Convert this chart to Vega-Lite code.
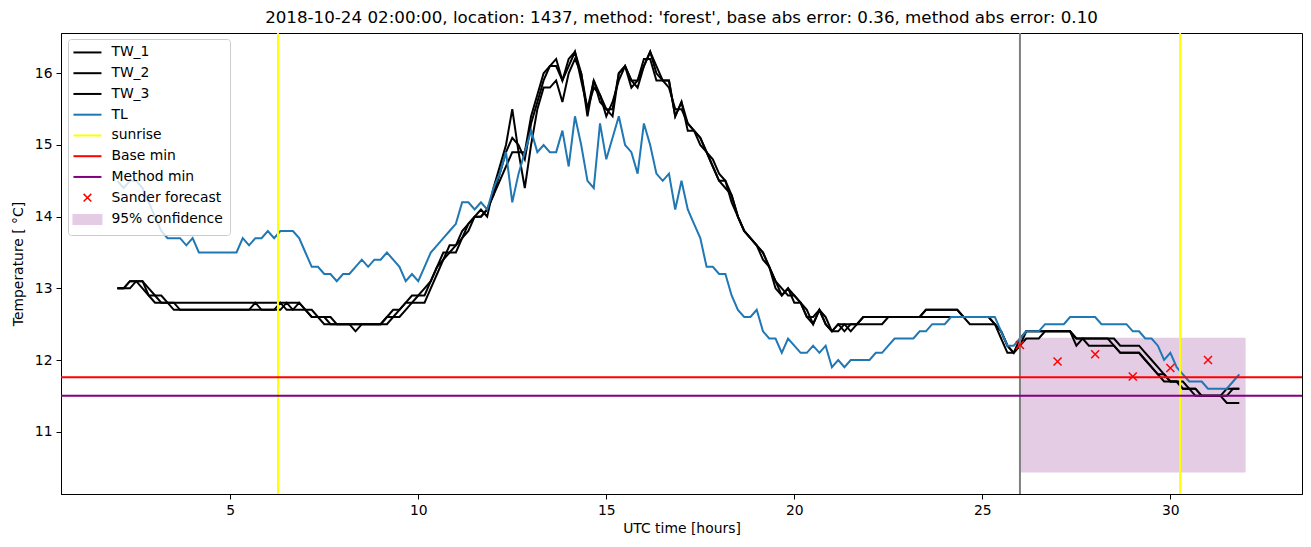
{
  "$schema": "https://vega.github.io/schema/vega-lite/v6.json",
  "width": 1241,
  "height": 461,
  "autosize": {"type": "none"},
  "padding": {"left": 61, "top": 33, "right": 9, "bottom": 53},
  "background": "white",
  "config": {
    "font": "DejaVu Sans",
    "view": {"stroke": "#000000", "strokeWidth": 1},
    "axis": {
      "grid": false, "tickSize": 5, "tickWidth": 1, "tickColor": "#000000",
      "domainColor": "#000000", "domainWidth": 1,
      "labelFont": "DejaVu Sans", "labelFontSize": 13.9, "labelColor": "#000000",
      "titleFont": "DejaVu Sans", "titleFontSize": 13.9, "titleFontWeight": "normal", "titleColor": "#000000",
      "labelPadding": 4, "labelFlush": false
    },
    "title": {"font": "DejaVu Sans", "fontSize": 16.7, "fontWeight": "normal", "color": "#000000", "anchor": "middle", "baseline": "bottom", "offset": 5}
  },
  "title": "2018-10-24 02:00:00, location: 1437, method: 'forest', base abs error: 0.36, method abs error: 0.10",
  "datasets": {
    "obs": [
      {"t":2,"TW_1":13.0,"TW_2":13.0,"TW_3":13.0,"TL":14.5},
      {"t":2.167,"TW_1":13.0,"TW_2":13.0,"TW_3":13.0,"TL":14.4},
      {"t":2.333,"TW_1":13.1,"TW_2":13.0,"TW_3":13.1,"TL":14.5},
      {"t":2.5,"TW_1":13.1,"TW_2":13.1,"TW_3":13.1,"TL":14.5},
      {"t":2.667,"TW_1":13.1,"TW_2":13.1,"TW_3":13.0,"TL":14.4},
      {"t":2.833,"TW_1":12.9,"TW_2":13.0,"TW_3":12.9,"TL":14.2},
      {"t":3,"TW_1":12.9,"TW_2":12.9,"TW_3":12.8,"TL":14.0},
      {"t":3.167,"TW_1":12.8,"TW_2":12.9,"TW_3":12.8,"TL":13.8},
      {"t":3.333,"TW_1":12.8,"TW_2":12.8,"TW_3":12.8,"TL":13.7},
      {"t":3.5,"TW_1":12.8,"TW_2":12.7,"TW_3":12.8,"TL":13.7},
      {"t":3.667,"TW_1":12.8,"TW_2":12.7,"TW_3":12.7,"TL":13.7},
      {"t":3.833,"TW_1":12.8,"TW_2":12.7,"TW_3":12.7,"TL":13.6},
      {"t":4,"TW_1":12.8,"TW_2":12.7,"TW_3":12.7,"TL":13.7},
      {"t":4.167,"TW_1":12.8,"TW_2":12.7,"TW_3":12.7,"TL":13.5},
      {"t":4.333,"TW_1":12.8,"TW_2":12.7,"TW_3":12.7,"TL":13.5},
      {"t":4.5,"TW_1":12.8,"TW_2":12.7,"TW_3":12.7,"TL":13.5},
      {"t":4.667,"TW_1":12.8,"TW_2":12.7,"TW_3":12.7,"TL":13.5},
      {"t":4.833,"TW_1":12.8,"TW_2":12.7,"TW_3":12.7,"TL":13.5},
      {"t":5,"TW_1":12.8,"TW_2":12.7,"TW_3":12.7,"TL":13.5},
      {"t":5.167,"TW_1":12.8,"TW_2":12.7,"TW_3":12.7,"TL":13.5},
      {"t":5.333,"TW_1":12.8,"TW_2":12.7,"TW_3":12.7,"TL":13.7},
      {"t":5.5,"TW_1":12.8,"TW_2":12.7,"TW_3":12.7,"TL":13.6},
      {"t":5.667,"TW_1":12.8,"TW_2":12.8,"TW_3":12.7,"TL":13.7},
      {"t":5.833,"TW_1":12.8,"TW_2":12.7,"TW_3":12.7,"TL":13.7},
      {"t":6,"TW_1":12.8,"TW_2":12.7,"TW_3":12.7,"TL":13.8},
      {"t":6.167,"TW_1":12.8,"TW_2":12.7,"TW_3":12.7,"TL":13.7},
      {"t":6.333,"TW_1":12.8,"TW_2":12.8,"TW_3":12.7,"TL":13.8},
      {"t":6.5,"TW_1":12.8,"TW_2":12.7,"TW_3":12.8,"TL":13.8},
      {"t":6.667,"TW_1":12.8,"TW_2":12.7,"TW_3":12.7,"TL":13.8},
      {"t":6.833,"TW_1":12.8,"TW_2":12.8,"TW_3":12.7,"TL":13.7},
      {"t":7,"TW_1":12.7,"TW_2":12.7,"TW_3":12.7,"TL":13.5},
      {"t":7.167,"TW_1":12.7,"TW_2":12.6,"TW_3":12.6,"TL":13.3},
      {"t":7.333,"TW_1":12.6,"TW_2":12.6,"TW_3":12.6,"TL":13.3},
      {"t":7.5,"TW_1":12.6,"TW_2":12.6,"TW_3":12.5,"TL":13.2},
      {"t":7.667,"TW_1":12.6,"TW_2":12.5,"TW_3":12.5,"TL":13.2},
      {"t":7.833,"TW_1":12.5,"TW_2":12.5,"TW_3":12.5,"TL":13.1},
      {"t":8,"TW_1":12.5,"TW_2":12.5,"TW_3":12.5,"TL":13.2},
      {"t":8.167,"TW_1":12.5,"TW_2":12.5,"TW_3":12.5,"TL":13.2},
      {"t":8.333,"TW_1":12.5,"TW_2":12.4,"TW_3":12.5,"TL":13.3},
      {"t":8.5,"TW_1":12.5,"TW_2":12.5,"TW_3":12.5,"TL":13.4},
      {"t":8.667,"TW_1":12.5,"TW_2":12.5,"TW_3":12.5,"TL":13.3},
      {"t":8.833,"TW_1":12.5,"TW_2":12.5,"TW_3":12.5,"TL":13.4},
      {"t":9,"TW_1":12.5,"TW_2":12.5,"TW_3":12.5,"TL":13.4},
      {"t":9.167,"TW_1":12.6,"TW_2":12.5,"TW_3":12.6,"TL":13.5},
      {"t":9.333,"TW_1":12.6,"TW_2":12.6,"TW_3":12.7,"TL":13.4},
      {"t":9.5,"TW_1":12.7,"TW_2":12.6,"TW_3":12.7,"TL":13.3},
      {"t":9.667,"TW_1":12.8,"TW_2":12.7,"TW_3":12.8,"TL":13.1},
      {"t":9.833,"TW_1":12.9,"TW_2":12.8,"TW_3":12.8,"TL":13.2},
      {"t":10,"TW_1":12.9,"TW_2":12.8,"TW_3":12.9,"TL":13.1},
      {"t":10.167,"TW_1":13.0,"TW_2":12.8,"TW_3":12.9,"TL":13.3},
      {"t":10.333,"TW_1":13.1,"TW_2":13.0,"TW_3":13.1,"TL":13.5},
      {"t":10.5,"TW_1":13.3,"TW_2":13.2,"TW_3":13.3,"TL":13.6},
      {"t":10.667,"TW_1":13.5,"TW_2":13.4,"TW_3":13.4,"TL":13.7},
      {"t":10.833,"TW_1":13.5,"TW_2":13.5,"TW_3":13.6,"TL":13.8},
      {"t":11,"TW_1":13.6,"TW_2":13.5,"TW_3":13.6,"TL":13.9},
      {"t":11.167,"TW_1":13.7,"TW_2":13.7,"TW_3":13.8,"TL":14.2},
      {"t":11.333,"TW_1":13.9,"TW_2":13.8,"TW_3":13.9,"TL":14.2},
      {"t":11.5,"TW_1":14.0,"TW_2":14.0,"TW_3":14.0,"TL":14.1},
      {"t":11.667,"TW_1":14.1,"TW_2":14.0,"TW_3":14.0,"TL":14.2},
      {"t":11.833,"TW_1":14.0,"TW_2":14.1,"TW_3":14.1,"TL":14.1},
      {"t":12,"TW_1":14.4,"TW_2":14.3,"TW_3":14.3,"TL":14.4},
      {"t":12.167,"TW_1":14.7,"TW_2":14.6,"TW_3":14.5,"TL":14.6},
      {"t":12.333,"TW_1":15.0,"TW_2":14.9,"TW_3":14.7,"TL":14.9},
      {"t":12.5,"TW_1":15.5,"TW_2":15.1,"TW_3":14.9,"TL":14.2},
      {"t":12.667,"TW_1":14.9,"TW_2":15.0,"TW_3":14.9,"TL":14.6},
      {"t":12.833,"TW_1":14.9,"TW_2":14.8,"TW_3":14.4,"TL":14.9},
      {"t":13,"TW_1":15.4,"TW_2":15.3,"TW_3":15.0,"TL":15.2},
      {"t":13.167,"TW_1":15.7,"TW_2":15.6,"TW_3":15.5,"TL":14.9},
      {"t":13.333,"TW_1":16.0,"TW_2":15.9,"TW_3":15.8,"TL":15.0},
      {"t":13.5,"TW_1":16.1,"TW_2":16.1,"TW_3":15.8,"TL":14.9},
      {"t":13.667,"TW_1":16.2,"TW_2":16.1,"TW_3":15.9,"TL":14.9},
      {"t":13.833,"TW_1":15.9,"TW_2":15.9,"TW_3":15.6,"TL":15.2},
      {"t":14,"TW_1":16.2,"TW_2":16.1,"TW_3":16.0,"TL":14.7},
      {"t":14.167,"TW_1":16.3,"TW_2":16.3,"TW_3":16.2,"TL":15.4},
      {"t":14.333,"TW_1":16.0,"TW_2":15.9,"TW_3":16.0,"TL":15.0},
      {"t":14.5,"TW_1":15.5,"TW_2":15.5,"TW_3":15.4,"TL":14.5},
      {"t":14.667,"TW_1":15.9,"TW_2":15.8,"TW_3":15.9,"TL":14.4},
      {"t":14.833,"TW_1":15.7,"TW_2":15.7,"TW_3":15.6,"TL":15.3},
      {"t":15,"TW_1":15.5,"TW_2":15.4,"TW_3":15.5,"TL":14.8},
      {"t":15.167,"TW_1":15.5,"TW_2":15.6,"TW_3":15.4,"TL":15.1},
      {"t":15.333,"TW_1":16.0,"TW_2":15.9,"TW_3":16.0,"TL":15.4},
      {"t":15.5,"TW_1":16.1,"TW_2":16.1,"TW_3":16.1,"TL":15.0},
      {"t":15.667,"TW_1":15.9,"TW_2":15.9,"TW_3":15.8,"TL":14.9},
      {"t":15.833,"TW_1":15.9,"TW_2":15.8,"TW_3":15.9,"TL":14.6},
      {"t":16,"TW_1":16.1,"TW_2":16.1,"TW_3":16.2,"TL":15.3},
      {"t":16.167,"TW_1":16.3,"TW_2":16.3,"TW_3":16.2,"TL":15.0},
      {"t":16.333,"TW_1":16.0,"TW_2":16.1,"TW_3":15.9,"TL":14.6},
      {"t":16.5,"TW_1":15.9,"TW_2":15.9,"TW_3":15.9,"TL":14.5},
      {"t":16.667,"TW_1":15.9,"TW_2":15.8,"TW_3":15.9,"TL":14.6},
      {"t":16.833,"TW_1":15.4,"TW_2":15.5,"TW_3":15.4,"TL":14.1},
      {"t":17,"TW_1":15.6,"TW_2":15.5,"TW_3":15.6,"TL":14.5},
      {"t":17.167,"TW_1":15.3,"TW_2":15.3,"TW_3":15.2,"TL":14.1},
      {"t":17.333,"TW_1":15.2,"TW_2":15.2,"TW_3":15.2,"TL":13.9},
      {"t":17.5,"TW_1":15.1,"TW_2":15.1,"TW_3":15.0,"TL":13.7},
      {"t":17.667,"TW_1":14.9,"TW_2":14.9,"TW_3":14.9,"TL":13.3},
      {"t":17.833,"TW_1":14.7,"TW_2":14.8,"TW_3":14.7,"TL":13.3},
      {"t":18,"TW_1":14.5,"TW_2":14.6,"TW_3":14.5,"TL":13.2},
      {"t":18.167,"TW_1":14.5,"TW_2":14.5,"TW_3":14.4,"TL":13.2},
      {"t":18.333,"TW_1":14.3,"TW_2":14.2,"TW_3":14.3,"TL":12.9},
      {"t":18.5,"TW_1":14.0,"TW_2":14.0,"TW_3":14.0,"TL":12.7},
      {"t":18.667,"TW_1":13.8,"TW_2":13.8,"TW_3":13.8,"TL":12.6},
      {"t":18.833,"TW_1":13.7,"TW_2":13.7,"TW_3":13.7,"TL":12.6},
      {"t":19,"TW_1":13.6,"TW_2":13.6,"TW_3":13.6,"TL":12.7},
      {"t":19.167,"TW_1":13.5,"TW_2":13.5,"TW_3":13.4,"TL":12.4},
      {"t":19.333,"TW_1":13.3,"TW_2":13.3,"TW_3":13.3,"TL":12.3},
      {"t":19.5,"TW_1":13.1,"TW_2":13.1,"TW_3":13.0,"TL":12.3},
      {"t":19.667,"TW_1":12.9,"TW_2":13.0,"TW_3":12.9,"TL":12.1},
      {"t":19.833,"TW_1":13.0,"TW_2":12.9,"TW_3":13.0,"TL":12.3},
      {"t":20,"TW_1":12.9,"TW_2":12.9,"TW_3":12.8,"TL":12.2},
      {"t":20.167,"TW_1":12.8,"TW_2":12.8,"TW_3":12.8,"TL":12.1},
      {"t":20.333,"TW_1":12.6,"TW_2":12.7,"TW_3":12.6,"TL":12.1},
      {"t":20.5,"TW_1":12.5,"TW_2":12.5,"TW_3":12.6,"TL":12.2},
      {"t":20.667,"TW_1":12.7,"TW_2":12.7,"TW_3":12.7,"TL":12.1},
      {"t":20.833,"TW_1":12.5,"TW_2":12.6,"TW_3":12.5,"TL":12.2},
      {"t":21,"TW_1":12.4,"TW_2":12.4,"TW_3":12.4,"TL":11.9},
      {"t":21.167,"TW_1":12.5,"TW_2":12.4,"TW_3":12.5,"TL":12.0},
      {"t":21.333,"TW_1":12.5,"TW_2":12.5,"TW_3":12.4,"TL":11.9},
      {"t":21.5,"TW_1":12.4,"TW_2":12.5,"TW_3":12.5,"TL":12.0},
      {"t":21.667,"TW_1":12.5,"TW_2":12.5,"TW_3":12.5,"TL":12.0},
      {"t":21.833,"TW_1":12.6,"TW_2":12.5,"TW_3":12.6,"TL":12.0},
      {"t":22,"TW_1":12.6,"TW_2":12.5,"TW_3":12.6,"TL":12.0},
      {"t":22.167,"TW_1":12.6,"TW_2":12.5,"TW_3":12.6,"TL":12.1},
      {"t":22.333,"TW_1":12.6,"TW_2":12.5,"TW_3":12.6,"TL":12.1},
      {"t":22.5,"TW_1":12.6,"TW_2":12.6,"TW_3":12.6,"TL":12.2},
      {"t":22.667,"TW_1":12.6,"TW_2":12.6,"TW_3":12.6,"TL":12.3},
      {"t":22.833,"TW_1":12.6,"TW_2":12.6,"TW_3":12.6,"TL":12.3},
      {"t":23,"TW_1":12.6,"TW_2":12.6,"TW_3":12.6,"TL":12.3},
      {"t":23.167,"TW_1":12.6,"TW_2":12.6,"TW_3":12.6,"TL":12.3},
      {"t":23.333,"TW_1":12.6,"TW_2":12.6,"TW_3":12.6,"TL":12.4},
      {"t":23.5,"TW_1":12.7,"TW_2":12.6,"TW_3":12.7,"TL":12.4},
      {"t":23.667,"TW_1":12.7,"TW_2":12.6,"TW_3":12.7,"TL":12.5},
      {"t":23.833,"TW_1":12.7,"TW_2":12.6,"TW_3":12.7,"TL":12.5},
      {"t":24,"TW_1":12.7,"TW_2":12.6,"TW_3":12.7,"TL":12.5},
      {"t":24.167,"TW_1":12.7,"TW_2":12.6,"TW_3":12.7,"TL":12.6},
      {"t":24.333,"TW_1":12.7,"TW_2":12.6,"TW_3":12.7,"TL":12.6},
      {"t":24.5,"TW_1":12.6,"TW_2":12.6,"TW_3":12.6,"TL":12.6},
      {"t":24.667,"TW_1":12.6,"TW_2":12.5,"TW_3":12.6,"TL":12.6},
      {"t":24.833,"TW_1":12.6,"TW_2":12.5,"TW_3":12.6,"TL":12.6},
      {"t":25,"TW_1":12.6,"TW_2":12.5,"TW_3":12.6,"TL":12.6},
      {"t":25.167,"TW_1":12.6,"TW_2":12.5,"TW_3":12.6,"TL":12.6},
      {"t":25.333,"TW_1":12.5,"TW_2":12.5,"TW_3":12.5,"TL":12.6},
      {"t":25.5,"TW_1":12.4,"TW_2":12.4,"TW_3":12.3,"TL":12.4},
      {"t":25.667,"TW_1":12.2,"TW_2":12.2,"TW_3":12.1,"TL":12.2},
      {"t":25.833,"TW_1":12.1,"TW_2":12.1,"TW_3":12.1,"TL":12.2},
      {"t":26,"TW_1":12.3,"TW_2":12.2,"TW_3":12.2,"TL":12.3},
      {"t":26.167,"TW_1":12.4,"TW_2":12.3,"TW_3":12.4,"TL":12.4},
      {"t":26.333,"TW_1":12.4,"TW_2":12.3,"TW_3":12.4,"TL":12.4},
      {"t":26.5,"TW_1":12.4,"TW_2":12.3,"TW_3":12.4,"TL":12.4},
      {"t":26.667,"TW_1":12.4,"TW_2":12.4,"TW_3":12.4,"TL":12.5},
      {"t":26.833,"TW_1":12.4,"TW_2":12.4,"TW_3":12.4,"TL":12.5},
      {"t":27,"TW_1":12.4,"TW_2":12.4,"TW_3":12.4,"TL":12.5},
      {"t":27.167,"TW_1":12.4,"TW_2":12.4,"TW_3":12.4,"TL":12.5},
      {"t":27.333,"TW_1":12.4,"TW_2":12.4,"TW_3":12.4,"TL":12.6},
      {"t":27.5,"TW_1":12.2,"TW_2":12.3,"TW_3":12.3,"TL":12.6},
      {"t":27.667,"TW_1":12.3,"TW_2":12.3,"TW_3":12.3,"TL":12.6},
      {"t":27.833,"TW_1":12.3,"TW_2":12.2,"TW_3":12.3,"TL":12.6},
      {"t":28,"TW_1":12.3,"TW_2":12.2,"TW_3":12.3,"TL":12.6},
      {"t":28.167,"TW_1":12.3,"TW_2":12.2,"TW_3":12.3,"TL":12.5},
      {"t":28.333,"TW_1":12.3,"TW_2":12.2,"TW_3":12.3,"TL":12.5},
      {"t":28.5,"TW_1":12.3,"TW_2":12.2,"TW_3":12.2,"TL":12.5},
      {"t":28.667,"TW_1":12.2,"TW_2":12.1,"TW_3":12.1,"TL":12.5},
      {"t":28.833,"TW_1":12.2,"TW_2":12.1,"TW_3":12.1,"TL":12.5},
      {"t":29,"TW_1":12.2,"TW_2":12.1,"TW_3":12.1,"TL":12.4},
      {"t":29.167,"TW_1":12.2,"TW_2":12.1,"TW_3":12.1,"TL":12.4},
      {"t":29.333,"TW_1":12.1,"TW_2":12.0,"TW_3":12.0,"TL":12.3},
      {"t":29.5,"TW_1":12.0,"TW_2":11.9,"TW_3":11.9,"TL":12.3},
      {"t":29.667,"TW_1":11.9,"TW_2":11.8,"TW_3":11.8,"TL":12.2},
      {"t":29.833,"TW_1":11.8,"TW_2":11.7,"TW_3":11.8,"TL":12.0},
      {"t":30,"TW_1":11.7,"TW_2":11.7,"TW_3":11.7,"TL":12.1},
      {"t":30.167,"TW_1":11.7,"TW_2":11.7,"TW_3":11.7,"TL":11.9},
      {"t":30.333,"TW_1":11.6,"TW_2":11.7,"TW_3":11.6,"TL":11.8},
      {"t":30.5,"TW_1":11.6,"TW_2":11.6,"TW_3":11.6,"TL":11.7},
      {"t":30.667,"TW_1":11.6,"TW_2":11.6,"TW_3":11.5,"TL":11.7},
      {"t":30.833,"TW_1":11.5,"TW_2":11.5,"TW_3":11.5,"TL":11.7},
      {"t":31,"TW_1":11.5,"TW_2":11.5,"TW_3":11.5,"TL":11.6},
      {"t":31.167,"TW_1":11.5,"TW_2":11.5,"TW_3":11.5,"TL":11.6},
      {"t":31.333,"TW_1":11.5,"TW_2":11.5,"TW_3":11.5,"TL":11.6},
      {"t":31.5,"TW_1":11.4,"TW_2":11.5,"TW_3":11.6,"TL":11.6},
      {"t":31.667,"TW_1":11.4,"TW_2":11.6,"TW_3":11.6,"TL":11.7},
      {"t":31.833,"TW_1":11.4,"TW_2":11.6,"TW_3":11.6,"TL":11.8}
    ],
    "band": [{"x1": 26, "x2": 32, "lo": 10.43, "hi": 12.31, "series": "95% confidence"}],
    "now": [{"x": 26}],
    "sunrise": [{"x": 6.27, "series": "sunrise"}, {"x": 30.26, "series": "sunrise"}],
    "mins": [{"y": 11.76, "series": "Base min"}, {"y": 11.5, "series": "Method min"}],
    "forecast": [
      {"t": 26, "v": 12.21, "series": "Sander forecast"},
      {"t": 27, "v": 11.98, "series": "Sander forecast"},
      {"t": 28, "v": 12.08, "series": "Sander forecast"},
      {"t": 29, "v": 11.77, "series": "Sander forecast"},
      {"t": 30, "v": 11.89, "series": "Sander forecast"},
      {"t": 31, "v": 12.0, "series": "Sander forecast"}
    ]
  },
  "layer": [
    {
      "data": {"name": "band"},
      "mark": {"type": "rect", "opacity": 1},
      "encoding": {
        "x": {"field": "x1", "type": "quantitative", "scale": {"domain": [0.5, 33.5], "nice": false, "zero": false}, "axis": {"title": "UTC time [hours]", "values": [5, 10, 15, 20, 25, 30], "format": "d", "titlePadding": 5}},
        "x2": {"field": "x2"},
        "y": {"field": "lo", "type": "quantitative", "scale": {"domain": [10.131, 16.562], "nice": false, "zero": false}, "axis": {"title": "Temperature [ °C]", "values": [11, 12, 13, 14, 15, 16], "format": "d", "titlePadding": 9}},
        "y2": {"field": "hi"},
        "color": {
          "field": "series", "type": "nominal",
          "scale": {"domain": ["TW_1", "TW_2", "TW_3", "TL", "sunrise", "Base min", "Method min", "Sander forecast", "95% confidence"], "range": ["#000000", "#000000", "#000000", "#1f77b4", "#ffff00", "#ff0000", "#800080", "#ff0000", "#e5cce5"]},
          "legend": {
            "title": null, "orient": "none", "legendX": 7, "legendY": 6, "padding": 6.5,
            "fillColor": "rgba(255,255,255,0.8)", "strokeColor": "#cccccc", "cornerRadius": 3,
            "labelFont": "DejaVu Sans", "labelFontSize": 13.9, "labelColor": "#000000",
            "symbolSize": 196, "symbolOffset": 6, "labelOffset": 17, "rowPadding": 5.75,
            "encoding": {"symbols": {
              "shape": {"value": {"expr": "datum.value === 'Sander forecast' ? 'M-0.55,-0.55L0.55,0.55M-0.55,0.55L0.55,-0.55' : (datum.value === '95% confidence' ? 'M-2,-0.65L2,-0.65L2,0.65L-2,0.65Z' : 'M-2,0L2,0')"}},
              "fill": {"value": {"expr": "datum.value === '95% confidence' ? '#e5cce5' : 'transparent'"}},
              "stroke": {"value": {"expr": "scale('color', datum.value)"}},
              "strokeWidth": {"value": {"expr": "datum.value === 'Sander forecast' ? 1.5 : 2"}},
              "opacity": {"value": 1}
            }}
          }
        }
      }
    },
    {
      "data": {"name": "obs"},
      "transform": [{"fold": ["TW_1", "TW_2", "TW_3"], "as": ["series", "value"]}],
      "mark": {"type": "line", "strokeWidth": 2, "interpolate": "linear"},
      "encoding": {
        "x": {"field": "t", "type": "quantitative"},
        "y": {"field": "value", "type": "quantitative"},
        "color": {"field": "series", "type": "nominal"},
        "detail": {"field": "series"}
      }
    },
    {
      "data": {"name": "obs"},
      "transform": [{"fold": ["TL"], "as": ["series", "value"]}],
      "mark": {"type": "line", "strokeWidth": 2},
      "encoding": {
        "x": {"field": "t", "type": "quantitative"},
        "y": {"field": "value", "type": "quantitative"},
        "color": {"field": "series", "type": "nominal"}
      }
    },
    {
      "data": {"name": "now"},
      "mark": {"type": "rule", "color": "#808080", "strokeWidth": 2},
      "encoding": {"x": {"field": "x", "type": "quantitative"}}
    },
    {
      "data": {"name": "sunrise"},
      "mark": {"type": "rule", "strokeWidth": 2},
      "encoding": {"x": {"field": "x", "type": "quantitative"}, "color": {"field": "series", "type": "nominal"}}
    },
    {
      "data": {"name": "mins"},
      "mark": {"type": "rule", "strokeWidth": 2},
      "encoding": {"y": {"field": "y", "type": "quantitative"}, "color": {"field": "series", "type": "nominal"}}
    },
    {
      "data": {"name": "forecast"},
      "mark": {"type": "point", "shape": "M-1,-1L1,1M-1,1L1,-1", "filled": false, "size": 64, "strokeWidth": 1.5, "opacity": 1},
      "encoding": {
        "x": {"field": "t", "type": "quantitative"},
        "y": {"field": "v", "type": "quantitative"},
        "color": {"field": "series", "type": "nominal"}
      }
    }
  ]
}
